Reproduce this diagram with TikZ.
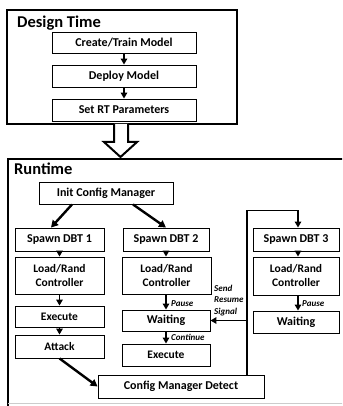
\documentclass[tikz,border=0pt]{standalone}
\usepackage{fontspec}
\setmainfont{Carlito}
\usetikzlibrary{arrows.meta}
\begin{document}
\begin{tikzpicture}[x=1pt,y=-1pt,
  box/.style={draw=black,line width=0.9pt,inner sep=0pt,align=center,font=\fontsize{12}{14}\selectfont\bfseries},
  sbox/.style={box,font=\fontsize{11.5}{14}\selectfont\bfseries},
  frame/.style={draw=black,line width=2.2pt},
  arr/.style={line width=1.8pt,-{Triangle[length=6pt,width=6.5pt]}},
  darr/.style={line width=2.4pt,-{Triangle[length=7pt,width=7.5pt]}},
  lbl/.style={inner sep=0pt,font=\fontsize{9}{11.5}\selectfont\bfseries\itshape},
  ttl/.style={inner sep=0pt,font=\fontsize{16.5}{18}\selectfont\bfseries}]
\useasboundingbox (0,0) rectangle (342,406);
\clip (0,0) rectangle (342,406);
\fill[white] (0,0) rectangle (342,406);
% frames
\draw[frame] (7,10) rectangle (237,124);
\draw[frame] (350,159) -- (8,159) -- (8,410);
\draw[gray!40,line width=1pt] (8,403) -- (350,403);
\node[ttl,anchor=base west] (dt) at (17,28) {Design Time};
\node[ttl,anchor=base west] (rt) at (14,174) {Runtime};
% hollow arrow
\draw[line width=2pt,fill=white,line join=miter] (114,124) -- (114,142) -- (104,142) -- (120.5,157) -- (137,142) -- (128,142) -- (128,124);
% design boxes
\node[box,minimum width=144pt,minimum height=21pt] (create) at (124,42.5) {Create/Train Model};
\node[box,minimum width=144pt,minimum height=22pt] (deploy) at (124,76) {Deploy Model};
\node[box,minimum width=144pt,minimum height=22pt] (setrt) at (124,110) {Set RT Parameters};
\draw[arr] (create) -- (deploy);
\draw[arr] (deploy) -- (setrt);
% runtime boxes
\node[box,minimum width=134pt,minimum height=22pt] (init) at (106,193) {Init Config Manager};
\node[box,minimum width=89pt,minimum height=23pt] (spawn1) at (59.5,239.5) {Spawn DBT 1};
\node[box,minimum width=86pt,minimum height=23pt] (spawn2) at (166,239.5) {Spawn DBT 2};
\node[box,minimum width=86pt,minimum height=23pt] (spawn3) at (296,239.5) {Spawn DBT 3};
\node[sbox,minimum width=89pt,minimum height=37pt] (load1) at (59.5,275.5) {Load/Rand\\Controller};
\node[sbox,minimum width=89pt,minimum height=37pt] (load2) at (166.5,275.5) {Load/Rand\\Controller};
\node[sbox,minimum width=86pt,minimum height=38pt] (load3) at (296,276) {Load/Rand\\Controller};
\node[sbox,minimum width=89pt,minimum height=21pt] (exec1) at (59.5,316.5) {Execute};
\node[sbox,minimum width=89pt,minimum height=23pt] (attack) at (59.5,346.5) {Attack};
\node[box,minimum width=88pt,minimum height=21pt] (wait2) at (166,320.5) {Waiting};
\node[sbox,minimum width=88pt,minimum height=22pt] (exec2) at (166,355) {Execute};
\node[box,minimum width=86pt,minimum height=22pt] (wait3) at (296,322) {Waiting};
\node[box,minimum width=166pt,minimum height=23pt] (detect) at (181,386.5) {Config Manager Detect};
% arrows
\draw[darr] ([xshift=-34pt]init.south) -- ([xshift=-8.5pt]spawn1.north);
\draw[darr] ([xshift=27pt]init.south) -- (spawn2.north);
\draw[arr] (spawn1) -- (load1);
\draw[arr] (load1) -- (exec1);
\draw[arr] (exec1) -- (attack);
\draw[arr] (spawn2) -- (spawn2 |- load2.north);
\draw[arr] (load2.south -| wait2) -- (wait2);
\draw[arr] (wait2) -- (exec2);
\draw[arr] ([xshift=2pt]spawn3.south) -- ([xshift=2pt]load3.north);
\draw[arr] ([xshift=2pt]load3.south) -- ([xshift=2pt]wait3.north);
\draw[darr] (attack.south) -- (detect.west);
\coordinate (lb) at ([xshift=66pt]detect.north);
\coordinate (sr) at (lb |- wait2.east);
\draw[line width=1.2pt] (lb) -- (sr);
\draw[arr] (sr) -- ++(0,-110) -| ([xshift=2pt]spawn3.north);
\draw[arr] (sr) -- (wait2.east);
% labels
\node[lbl,anchor=west] (p2) at (171,303.5) {Pause};
\node[lbl,anchor=west] (c2) at (171,337.5) {Continue};
\node[lbl,anchor=west] (p3) at (302,304) {Pause};
\node[lbl,anchor=north west,align=left] (srs) at (214,284.5) {Send\\Resume\\Signal};
\end{tikzpicture}
\end{document}
